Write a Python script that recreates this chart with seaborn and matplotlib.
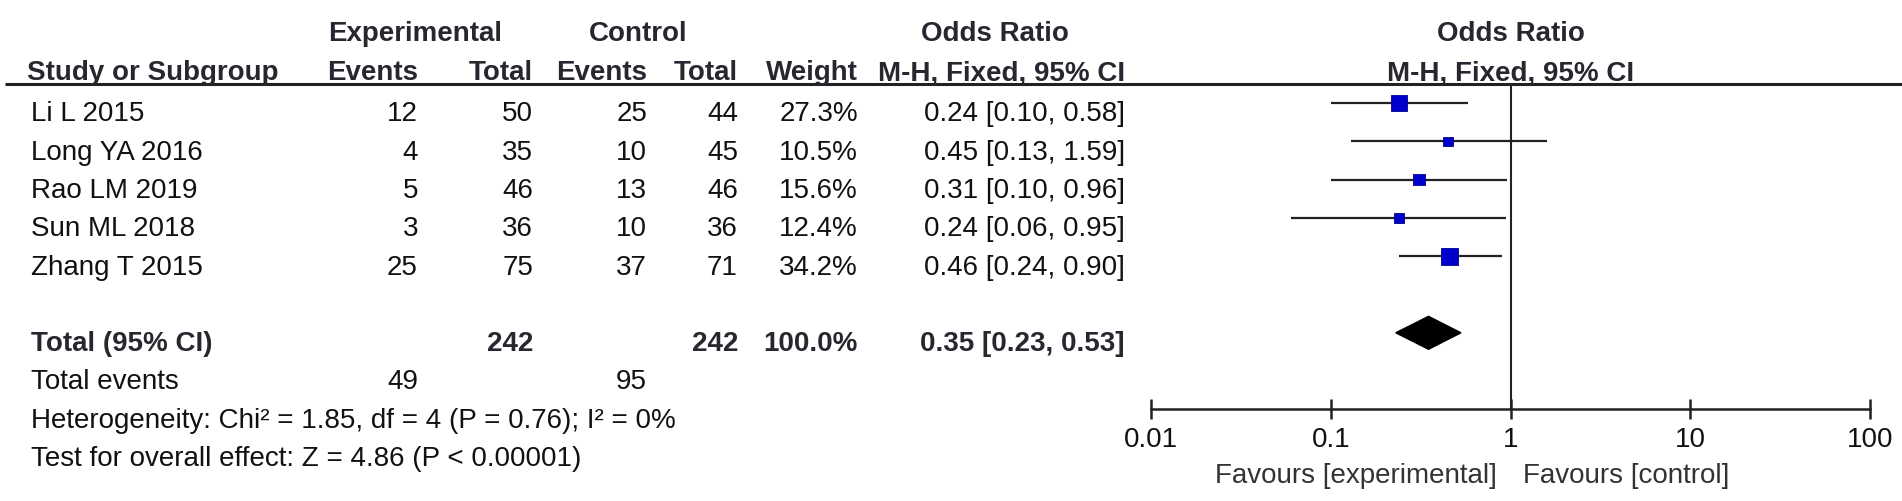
import matplotlib
matplotlib.use("Agg")
import matplotlib.pyplot as plt
import seaborn as sns
import pandas as pd

# study data
studies = ["Li L 2015", "Long YA 2016", "Rao LM 2019", "Sun ML 2018", "Zhang T 2015"]
exp_events = [12, 4, 5, 3, 25]
exp_total = [50, 35, 46, 36, 75]
ctl_events = [25, 10, 13, 10, 37]
ctl_total = [44, 45, 46, 36, 71]
weights = [27.3, 10.5, 15.6, 12.4, 34.2]
or_est = [0.24, 0.45, 0.31, 0.24, 0.46]
ci_lo = [0.10, 0.13, 0.10, 0.06, 0.24]
ci_hi = [0.58, 1.59, 0.96, 0.95, 0.90]
pooled = [0.35, 0.23, 0.53]
heterogeneity = "Heterogeneity: Chi\u00b2 = 1.85, df = 4 (P = 0.76); I\u00b2 = 0%"
overall = "Test for overall effect: Z = 4.86 (P < 0.00001)"
ticks = [0.01, 0.1, 1, 10, 100]
tick_labels = ["0.01", "0.1", "1", "10", "100"]

df = pd.DataFrame({"study": studies, "or": or_est, "lo": ci_lo, "hi": ci_hi,
                   "weight": weights, "row": range(len(studies))})

sns.set_theme(style="white")
plt.rcParams["font.family"] = ["Liberation Sans", "DejaVu Sans"]

W, H = 1902, 501
FS = 20
TXT = "#111111"
HDR = "#2a2630"
fig = plt.figure(figsize=(W / 100, H / 100), dpi=100)

# rows: pixel = 103 + 38.3 * row
y_top = -103 / 38.3
y_bot = (H - 103) / 38.3

# table axes, x in pixels
ax_t = fig.add_axes([0, 0, 1, 1])
ax_t.set_xlim(0, W)
ax_t.set_ylim(y_bot, y_top)
ax_t.axis("off")

# forest axes, log scale
x0, x1 = 1151, 1870
ax_f = fig.add_axes([x0 / W, 0, (x1 - x0) / W, 1])
ax_f.set_xscale("log")
ax_f.set_xlim(0.01, 100)
ax_f.set_ylim(y_bot, y_top)
ax_f.patch.set_alpha(0)

base = 0.48
col_right = {"ee": 418, "et": 533, "ce": 647, "ct": 738, "w": 858, "or": 1125}

# headers
hb = dict(fontsize=FS, fontweight="bold", color=HDR)
r1, r2 = -1.62, -0.60
ax_t.text(415, r1, "Experimental", ha="center", va="baseline", **hb)
ax_t.text(638, r1, "Control", ha="center", va="baseline", **hb)
ax_t.text(995, r1, "Odds Ratio", ha="center", va="baseline", **hb)
ax_t.text(27, r2, "Study or Subgroup", ha="left", va="baseline", **hb)
for key, lab in [("ee", "Events"), ("et", "Total"), ("ce", "Events"),
                 ("ct", "Total"), ("w", "Weight"), ("or", "M-H, Fixed, 95% CI")]:
    ax_t.text(col_right[key], r2, lab, ha="right", va="baseline", **hb)
ax_f.text(1, r1, "Odds Ratio", ha="center", va="baseline", **hb)
ax_f.text(1, r2, "M-H, Fixed, 95% CI", ha="center", va="baseline", **hb)
ax_t.hlines(-0.5, 5, W, color="#222222", lw=2.2)

# study rows
for i, s in enumerate(studies):
    y = i + base
    ax_t.text(31, y, s, ha="left", va="baseline", fontsize=FS, color=TXT)
    vals = [("ee", exp_events[i]), ("et", exp_total[i]), ("ce", ctl_events[i]),
            ("ct", ctl_total[i]), ("w", f"{weights[i]:.1f}%"),
            ("or", f"{or_est[i]:.2f} [{ci_lo[i]:.2f}, {ci_hi[i]:.2f}]")]
    for key, v in vals:
        ax_t.text(col_right[key], y, str(v), ha="right", va="baseline", fontsize=FS, color=TXT)

# totals
tot_row = len(studies) + 1
y = tot_row + base
bold = dict(fontsize=FS, fontweight="bold", color=HDR, va="baseline")
ax_t.text(31, y, "Total (95% CI)", ha="left", **bold)
ax_t.text(col_right["et"], y, str(sum(exp_total)), ha="right", **bold)
ax_t.text(col_right["ct"], y, str(sum(ctl_total)), ha="right", **bold)
ax_t.text(col_right["w"], y, f"{sum(weights):.1f}%", ha="right", **bold)
ax_t.text(col_right["or"], y, f"{pooled[0]:.2f} [{pooled[1]:.2f}, {pooled[2]:.2f}]", ha="right", **bold)

y = tot_row + 1 + base
ax_t.text(31, y, "Total events", ha="left", va="baseline", fontsize=FS, color=TXT)
ax_t.text(col_right["ee"], y, str(sum(exp_events)), ha="right", va="baseline", fontsize=FS, color=TXT)
ax_t.text(col_right["ce"], y, str(sum(ctl_events)), ha="right", va="baseline", fontsize=FS, color=TXT)
ax_t.text(31, tot_row + 2 + base, heterogeneity, ha="left", va="baseline", fontsize=FS, color=TXT)
ax_t.text(31, tot_row + 3 + base, overall, ha="left", va="baseline", fontsize=FS, color=TXT)

# forest plot
axis_row = tot_row + 2
ax_f.vlines(1, -0.5, axis_row, color="#222222", lw=1.5, zorder=1)
ax_f.hlines(df["row"], df["lo"], df["hi"], color="#222222", lw=1.6, zorder=2)
sns.scatterplot(data=df, x="or", y="row", size="weight", sizes=(0, 150),
                size_norm=(0, max(weights)), marker="s", color="#0000cc",
                edgecolor="#00008a", linewidth=0.6, legend=False, zorder=3, ax=ax_f)
h = 0.43
ax_f.fill([pooled[1], pooled[0], pooled[2], pooled[0]],
          [tot_row, tot_row - h, tot_row, tot_row + h], color="black", zorder=3)

# bottom axis
for side in ["top", "right", "left"]:
    ax_f.spines[side].set_visible(False)
ax_f.spines["bottom"].set_position(("data", axis_row))
ax_f.spines["bottom"].set_color("#222222")
ax_f.spines["bottom"].set_linewidth(1.8)
ax_f.set_xticks(ticks)
ax_f.set_xticklabels(tick_labels)
ax_f.minorticks_off()
ax_f.set_yticks([])
ax_f.tick_params(axis="x", direction="inout", length=15, width=1.8, color="#222222",
                 pad=5, labelsize=FS, labelcolor=TXT, bottom=True)
ax_f.set_xlabel("")
ax_f.set_ylabel("")

fav_y = 9.92
ax_t.text(1497, fav_y, "Favours [experimental]", ha="right", va="baseline", fontsize=FS, color="#333333")
ax_t.text(1523, fav_y, "Favours [control]", ha="left", va="baseline", fontsize=FS, color="#333333")

fig.savefig("out.png", dpi=100)
